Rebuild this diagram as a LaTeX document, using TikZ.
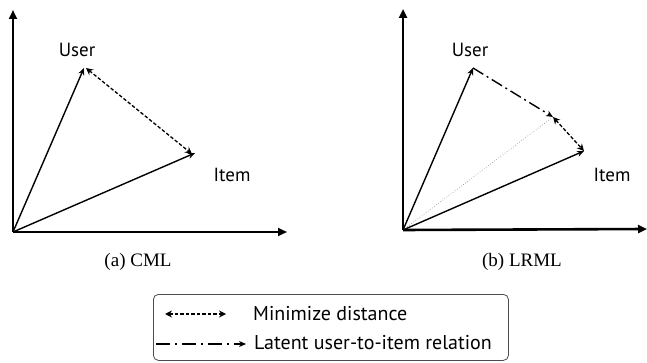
\documentclass[tikz,border=0pt]{standalone}
\usepackage{fontspec}
\setmainfont{Liberation Serif}
\newfontfamily\sansf{PT Sans}
\usetikzlibrary{arrows.meta}
\begin{document}
\begin{tikzpicture}[x=1pt,y=-1pt,
  axis/.style={line width=2.6pt,-{Triangle[length=9pt,width=8pt]}},
  vec/.style={line width=1.4pt,-{Stealth[length=7pt,width=6pt]}},
  mind/.style={line width=1.3pt,dash pattern=on 3.5pt off 2pt,{Stealth[length=7pt,width=7pt,open]}-{Stealth[length=7pt,width=7pt,open]}},
  rel/.style={line width=1.4pt,dash pattern=on 12pt off 4pt on 2pt off 4pt,-{Stealth[length=7pt,width=6pt]}},
  lbl/.style={font=\sansf\fontsize{19}{22}\selectfont,anchor=base,inner sep=0pt},
  captxt/.style={font=\fontsize{19}{22}\selectfont,anchor=base,inner sep=0pt},
  leg/.style={font=\sansf\fontsize{20}{24}\selectfont,anchor=base west,inner sep=0pt}]
\useasboundingbox (0,0) rectangle (647,363);
% panel (a)
\coordinate (oa) at (13,232);
\coordinate (ya) at (13,10);
\coordinate (xa) at (287,232);
\coordinate (ua) at (84,68);
\coordinate (ia) at (195,153);
\draw[axis] (oa) -- (ya);
\draw[axis] (oa) -- (xa);
\draw[vec] (oa) -- (ua);
\draw[vec] (oa) -- (ia);
\draw[mind] (86,68) -- (192,154);
\node[lbl] (usera) at (77,57) {User};
\node[lbl] (itema) at (232,182) {Item};
\node[captxt] (capa) at (138,266) {(a) CML};
% panel (b)
\coordinate (ob) at (403,230);
\coordinate (yb) at (403,9);
\coordinate (xb) at (647,229);
\coordinate (ub) at (473,68);
\coordinate (ib) at (584,151);
\coordinate (mb) at (553,117);
\draw[axis] (ob) -- (yb);
\draw[axis] (ob) -- (xb);
\draw[gray,line width=0.6pt,dotted] (ob) -- (mb);
\draw[vec] (ob) -- (ub);
\draw[vec] (ob) -- (ib);
\draw[rel] (ub) -- (mb);
\draw[mind] (mb) -- (ib);
\node[lbl] (userb) at (470,57) {User};
\node[lbl] (itemb) at (612,182) {Item};
\node[captxt] (capb) at (522,266) {(b) LRML};
% legend
\node[draw=black!70,line width=0.8pt,rounded corners=5pt,minimum width=355pt,minimum height=66pt,anchor=north west] (legend) at (153,294) {};
\coordinate (l1a) at (165,314);
\coordinate (l1b) at (226,314);
\coordinate (l2a) at (156,344);
\coordinate (l2b) at (246,344);
\draw[mind] (l1a) -- (l1b);
\draw[rel,dash pattern=on 14pt off 5pt on 2pt off 5pt] (l2a) -- (l2b);
\node[leg] (t1) at (253,320) {Minimize distance};
\node[leg] (t2) at (254,349) {Latent user-to-item relation};
\end{tikzpicture}
\end{document}
